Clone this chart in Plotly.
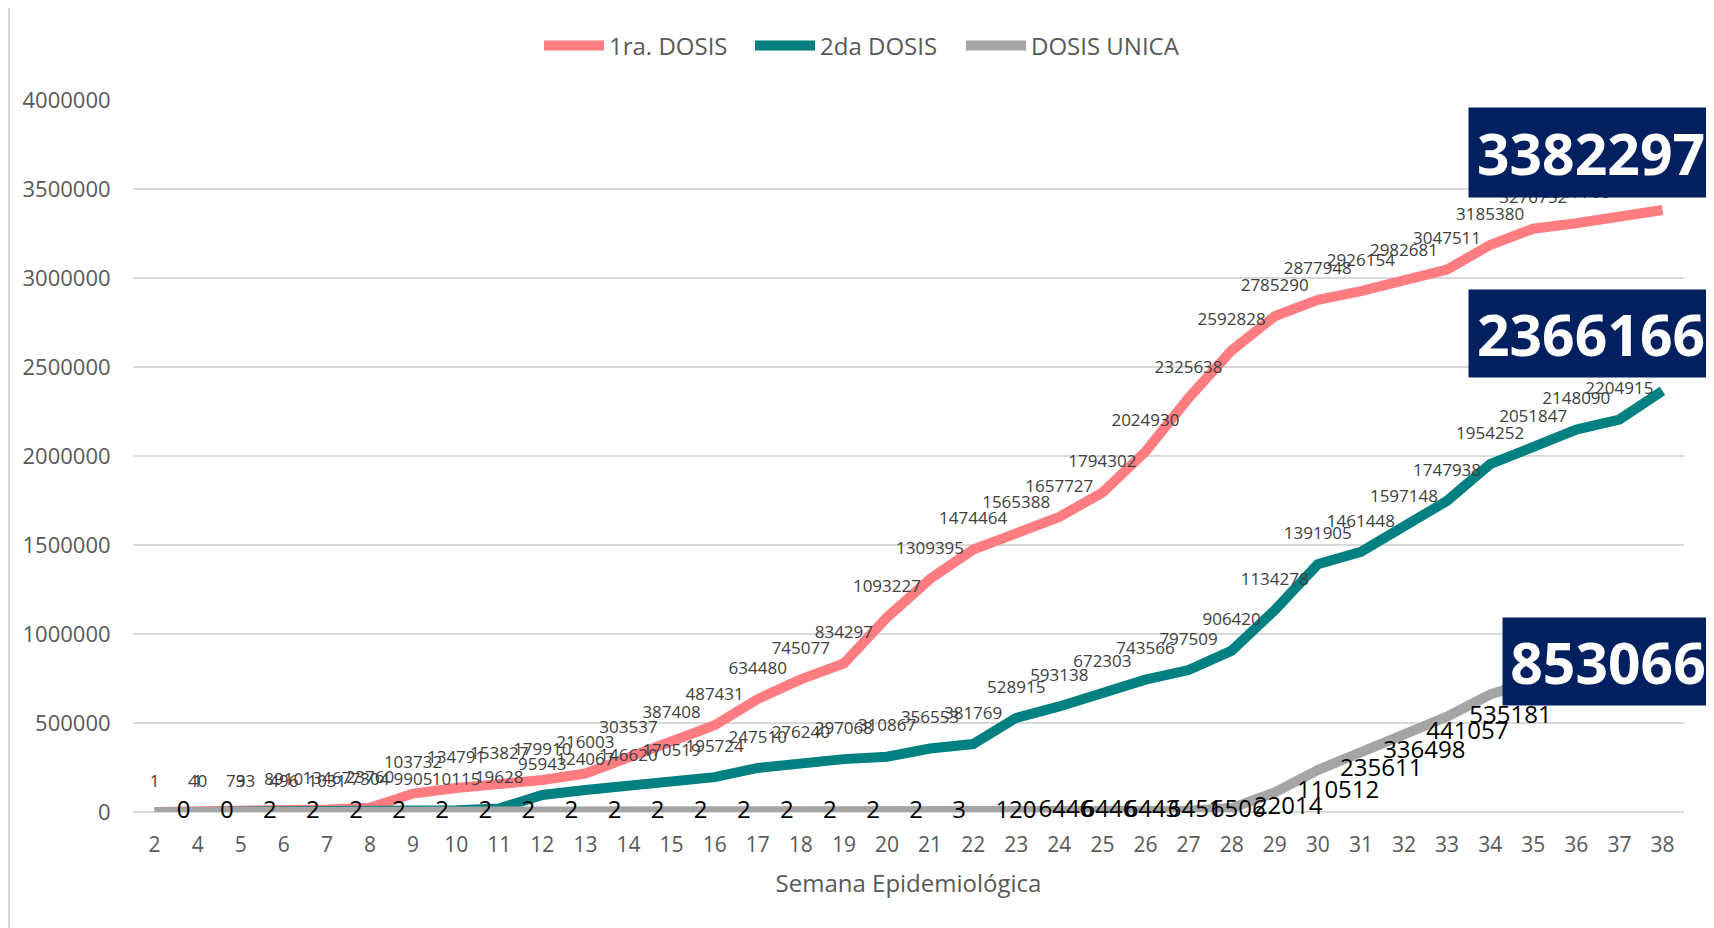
import plotly.graph_objects as go

# ---- data ----
semanas = ["2"] + [str(i) for i in range(4, 39)]

primera = [1, 40, 793, 8910, 13467, 23760, 103732, 134791, 153827, 179910, 216003,
           303537, 387408, 487431, 634480, 745077, 834297, 1093227, 1309395, 1474464,
           1565388, 1657727, 1794302, 2024930, 2325638, 2592828, 2785290, 2877948,
           2926154, 2982681, 3047511, 3185380, 3276752, 3307706, 3345000, 3382297]

segunda = [None, 1, 3, 496, 1031, 7304, 9905, 10115, 19628, 95943, 124067, 146620,
           170519, 195724, 247510, 276240, 297068, 310867, 356553, 381769, 528915,
           593138, 672303, 743566, 797509, 906420, 1134278, 1391905, 1461448, 1597148,
           1747938, 1954252, 2051847, 2148090, 2204915, 2366166]

unica = [0, 0, 2, 2, 2, 2, 2, 2, 2, 2, 2, 2, 2, 2, 2, 2, 2, 2, 3, 120, 6446, 6446,
         6443, 6451, 6506, 22014, 110512, 235611, 336498, 441057, 535181, 660000,
         735000, 790000, 825000, 853066]

series_names = ["1ra. DOSIS", "2da DOSIS", "DOSIS UNICA"]
colors = ["#FF7C80", "#008080", "#A5A5A5"]

W, H = 1714, 928
OFF = 8  # page body margin offset
# plot area in screen pixels
PL, PR, PT, PB = 133, 1684, 100, 812
ML, MT = PL - OFF, PT - OFF
MR, MB = W - PR + OFF, H - PB + OFF
PW, PH = PR - PL, PB - PT


def labels(vals):
    out = ["" if v is None else str(v) for v in vals]
    out[-1] = ""
    return out


def sx(px):  # screen x -> paper
    return (px - PL) / PW


def sy(py):  # screen y -> paper
    return (PB - py) / PH


FONT = "Open Sans"
CLEAR = "rgba(0,0,0,0)"
fig = go.Figure()

legend_ids = ["legend", "legend2", "legend3"]

for i, (name, vals, col) in enumerate([(series_names[0], primera, colors[0]),
                                        (series_names[1], segunda, colors[1])]):
    fig.add_trace(go.Scatter(
        x=semanas, y=vals, name=name, mode="lines+markers+text",
        line=dict(color=col, width=10),
        marker=dict(size=32, color=CLEAR, line=dict(width=0, color=CLEAR)),
        text=labels(vals), textposition="top center",
        textfont=dict(family=FONT, size=17, color="#404040"),
        cliponaxis=False, connectgaps=False, legend=legend_ids[i],
    ))

fig.add_trace(go.Scatter(
    x=semanas, y=unica, name=series_names[2], mode="lines+markers+text",
    line=dict(color=colors[2], width=10),
    marker=dict(size=34, color=CLEAR, line=dict(width=0, color=CLEAR)),
    text=labels(unica), textposition="middle right",
    textfont=dict(family=FONT, size=24, color="#000000"),
    cliponaxis=False, legend=legend_ids[2],
))

# big value boxes for last points (screen px)
boxes = [
    (str(primera[-1]), 1470, 108, 197),
    (str(segunda[-1]), 1470, 290, 377),
    (str(unica[-1]), 1504, 618, 705),
]
for txt, x0, y0, y1 in boxes:
    fig.add_annotation(
        x=sx(W), xref="paper", xanchor="right",
        y=sy((y0 + y1) / 2), yref="paper", yanchor="middle",
        text="<b>" + txt + "</b>", showarrow=False,
        width=W - x0, height=y1 - y0, borderpad=0,
        bgcolor="#002060", align="center", valign="middle",
        font=dict(family=FONT, size=57, color="#FFFFFF"),
    )

# outer chart border
fig.add_shape(type="rect", xref="paper", yref="paper",
              x0=sx(9), x1=sx(W + 30),
              y0=sy(H + 30), y1=sy(5.5),
              line=dict(color="#D9D9D9", width=2), layer="below")

legend_starts = [549, 760, 971]  # screen px of legend line symbols
leg_common = dict(orientation="h", xanchor="left", yanchor="middle",
                  y=sy(46), font=dict(size=24, color="#595959"), itemwidth=60,
                  bgcolor=CLEAR)

fig.update_layout(
    width=W, height=H,
    margin=dict(l=ML, r=MR, t=MT, b=MB),
    paper_bgcolor="#FFFFFF", plot_bgcolor="#FFFFFF",
    font=dict(family=FONT, color="#595959"),
    legend=dict(x=sx(legend_starts[0] - 10), **leg_common),
    legend2=dict(x=sx(legend_starts[1] - 10), **leg_common),
    legend3=dict(x=sx(legend_starts[2] - 10), **leg_common),
    showlegend=True,
)
fig.update_xaxes(
    type="category", range=[-0.5, len(semanas) - 0.5],
    showgrid=False, showline=False, zeroline=False,
    ticks="outside", ticklen=14, tickcolor="rgba(0,0,0,0)",
    tickfont=dict(size=21, color="#595959"),
    title=dict(text="Semana Epidemiológica", font=dict(size=24, color="#595959"), standoff=17),
)
fig.update_yaxes(
    range=[0, 4000000], dtick=500000, tickformat="d",
    showgrid=True, gridcolor="#D9D9D9", gridwidth=1.5,
    zeroline=True, zerolinecolor="#D9D9D9", zerolinewidth=1.5,
    showline=False,
    ticks="outside", ticklen=17, tickcolor="rgba(0,0,0,0)",
    tickfont=dict(size=22, color="#595959"),
)

fig.write_html("out.html")
